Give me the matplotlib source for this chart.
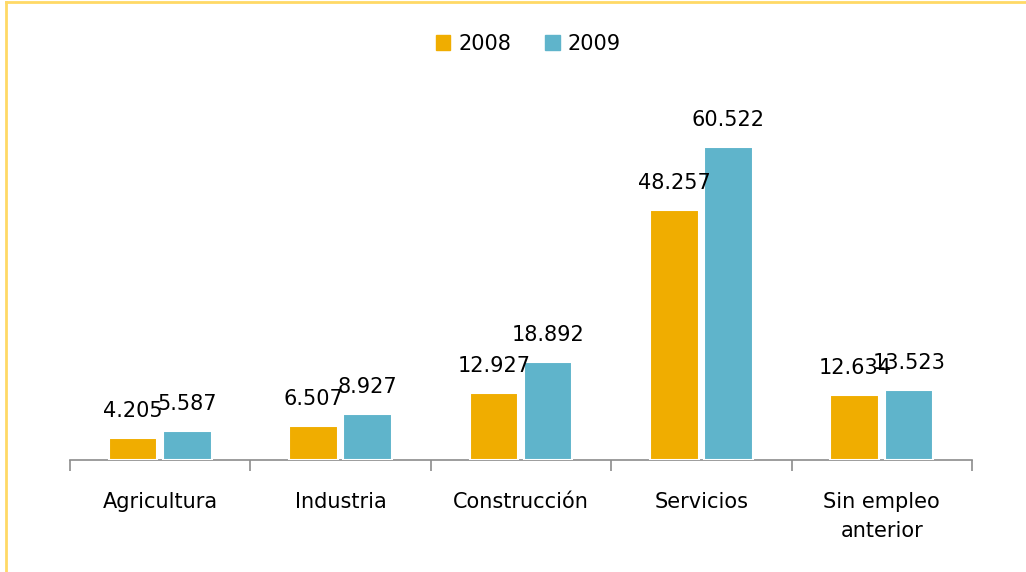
import numpy as np
import matplotlib.pyplot as plt
from matplotlib.lines import Line2D

categories = ["Agricultura", "Industria", "Construcción", "Servicios", "Sin empleo\nanterior"]
years = ["2008", "2009"]
vals_2008 = [4.205, 6.507, 12.927, 48.257, 12.634]
vals_2009 = [5.587, 8.927, 18.892, 60.522, 13.523]
labels_2008 = ["4.205", "6.507", "12.927", "48.257", "12.634"]
labels_2009 = ["5.587", "8.927", "18.892", "60.522", "13.523"]

orange = "#F0AD00"
teal = "#5FB4CB"

plt.rcParams["font.family"] = ["DejaVu Sans"]

fig = plt.figure(figsize=(10.26, 5.72), dpi=100)
ax = fig.add_axes([0.0682, 0.1958, 0.8792, 0.6329])

x = np.arange(len(categories))
w = 0.27
off = 0.15

for vals, labs, sign, col in [(vals_2008, labels_2008, -1, orange),
                              (vals_2009, labels_2009, 1, teal)]:
    bars = ax.bar(x + sign * off, vals, w, color=col,
                  edgecolor="white", linewidth=1.5, zorder=3)
    for b, lab in zip(bars, labs):
        ax.annotate(lab, (b.get_x() + b.get_width() / 2, b.get_height()),
                    xytext=(0, 19.5), textcoords="offset points",
                    ha="center", va="center", fontsize=15, color="black",
                    zorder=4)

ax.set_xlim(-0.5, len(categories) - 0.5)
ax.set_ylim(0, 70)

for s in ["top", "right", "left"]:
    ax.spines[s].set_visible(False)
ax.spines["bottom"].set_color("#8C8C8C")
ax.spines["bottom"].set_linewidth(1.2)
ax.set_yticks([])

ax.set_xticks(np.arange(-0.5, len(categories)), [""] * (len(categories) + 1))
ax.tick_params(axis="x", which="major", length=8, color="#8C8C8C", width=1.2)
ax.set_xticks(x, categories, minor=True)
ax.tick_params(axis="x", which="minor", length=0, pad=23, labelsize=15)
for t in ax.get_xticklabels(minor=True):
    t.set_linespacing(1.55)

handles = [plt.Rectangle((0, 0), 1, 1, color=orange),
           plt.Rectangle((0, 0), 1, 1, color=teal)]
fig.legend(handles, years, loc="center", bbox_to_anchor=(0.515, 0.923),
           ncol=2, frameon=False, fontsize=15, handlelength=0.7,
           handleheight=0.7, handletextpad=0.4, columnspacing=1.6)

# yellow frame (left and top edges visible)
fig.add_artist(Line2D([6 / 1026, 6 / 1026], [0, 1 - 2 / 572],
                      transform=fig.transFigure, color="#FFD966", lw=2))
fig.add_artist(Line2D([6 / 1026, 1], [1 - 2 / 572, 1 - 2 / 572],
                      transform=fig.transFigure, color="#FFD966", lw=2))

fig.savefig("out.png", dpi=100)
